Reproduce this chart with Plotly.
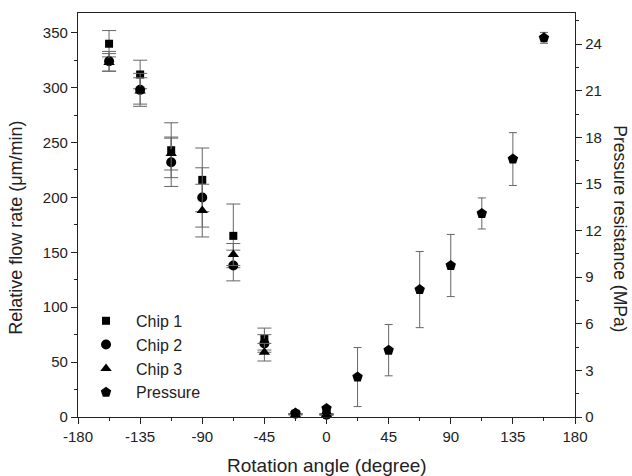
import plotly.graph_objects as go

chip_angles = [-157.5, -135, -112.5, -90, -67.5, -45, -22.5, 0]
chip1 = [340, 312, 243, 216, 165, 71, 3, 3]
chip1_err = [12, 13, 25, 29, 29, 10, 0, 0]
chip2 = [324, 298, 232, 200, 138, 67, 3, 2]
chip2_err = [9, 15, 22, 27, 14, 8, 0, 0]
chip3 = [323, 297, 240, 188, 148, 59, 2, 2]
chip3_err = [8, 12, 15, 24, 10, 8, 0, 0]

press_angles = [-22.5, 0, 22.5, 45, 67.5, 90, 112.5, 135, 157.5]
pressure = [0.25, 0.55, 2.57, 4.3, 8.2, 9.75, 13.1, 16.6, 24.4]
pressure_err = [0, 0, 1.9, 1.65, 2.45, 2.0, 1.0, 1.7, 0.35]

x_ticks = [-180, -135, -90, -45, 0, 45, 90, 135, 180]

FONT = "Liberation Sans, Arial, sans-serif"
ERRC = "#666666"

fig = go.Figure()

def chip_trace(name, y, err, symbol, size):
    return go.Scatter(
        x=chip_angles, y=y, name=name, mode="markers",
        marker=dict(symbol=symbol, size=size, color="black"),
        error_y=dict(type="data", array=err, visible=True, color=ERRC, thickness=1, width=7),
        cliponaxis=False,
    )

fig.add_trace(chip_trace("Chip 1", chip1, chip1_err, "square", 8))
fig.add_trace(chip_trace("Chip 2", chip2, chip2_err, "circle", 10))
fig.add_trace(chip_trace("Chip 3", chip3, chip3_err, "triangle-up", 10))
fig.add_trace(go.Scatter(
    x=press_angles, y=pressure, name="Pressure", mode="markers", yaxis="y2",
    marker=dict(symbol="pentagon", size=11, color="black"),
    error_y=dict(type="data", array=pressure_err, visible=True, color=ERRC, thickness=1, width=4),
    cliponaxis=False,
))

axis_common = dict(
    showgrid=False, zeroline=False, showline=True, linecolor="#222", linewidth=1.3,
    ticks="outside", ticklen=6, tickwidth=1, tickcolor="#222",
    tickfont=dict(family=FONT, size=15, color="#222"),
)

fig.update_layout(
    width=632, height=476,
    margin=dict(l=78, r=57, t=13, b=59),
    paper_bgcolor="white", plot_bgcolor="white",
    font=dict(family=FONT, color="#222"),
    showlegend=True,
    legend=dict(x=-0.004, y=0.28, xanchor="left", yanchor="top",
                font=dict(family=FONT, size=16, color="#222"),
                bgcolor="rgba(0,0,0,0)", itemwidth=50, tracegroupgap=0),
    xaxis=dict(range=[-180, 180], tickmode="array", tickvals=x_ticks,
               ticktext=[str(v) for v in x_ticks], mirror=True,
               minor=dict(dtick=22.5, tick0=0, ticks="outside", ticklen=3, tickcolor="#222"),
               **axis_common),
    yaxis=dict(range=[0, 368], dtick=50, tick0=0,
               minor=dict(dtick=25, tick0=0, ticks="outside", ticklen=3, tickcolor="#222"),
               **axis_common),
    yaxis2=dict(range=[0, 26], dtick=3, tick0=0, overlaying="y", side="right",
                minor=dict(dtick=1.5, tick0=0, ticks="outside", ticklen=3, tickcolor="#222"),
                **axis_common),
    annotations=[
        dict(text="Rotation angle (degree)", xref="paper", yref="paper", x=0.5, y=-0.121,
             xanchor="center", yanchor="middle", showarrow=False,
             font=dict(family=FONT, size=19, color="#222")),
        dict(text="Relative flow rate (μm/min)", xref="paper", yref="paper", x=-0.125, y=0.468,
             xanchor="center", yanchor="middle", showarrow=False, textangle=-90,
             font=dict(family=FONT, size=18, color="#222")),
        dict(text="Pressure resistance (MPa)", xref="paper", yref="paper", x=1.0906, y=0.467,
             xanchor="center", yanchor="middle", showarrow=False, textangle=90,
             font=dict(family=FONT, size=17.5, color="#222")),
    ],
)

fig.write_html("out.html")
